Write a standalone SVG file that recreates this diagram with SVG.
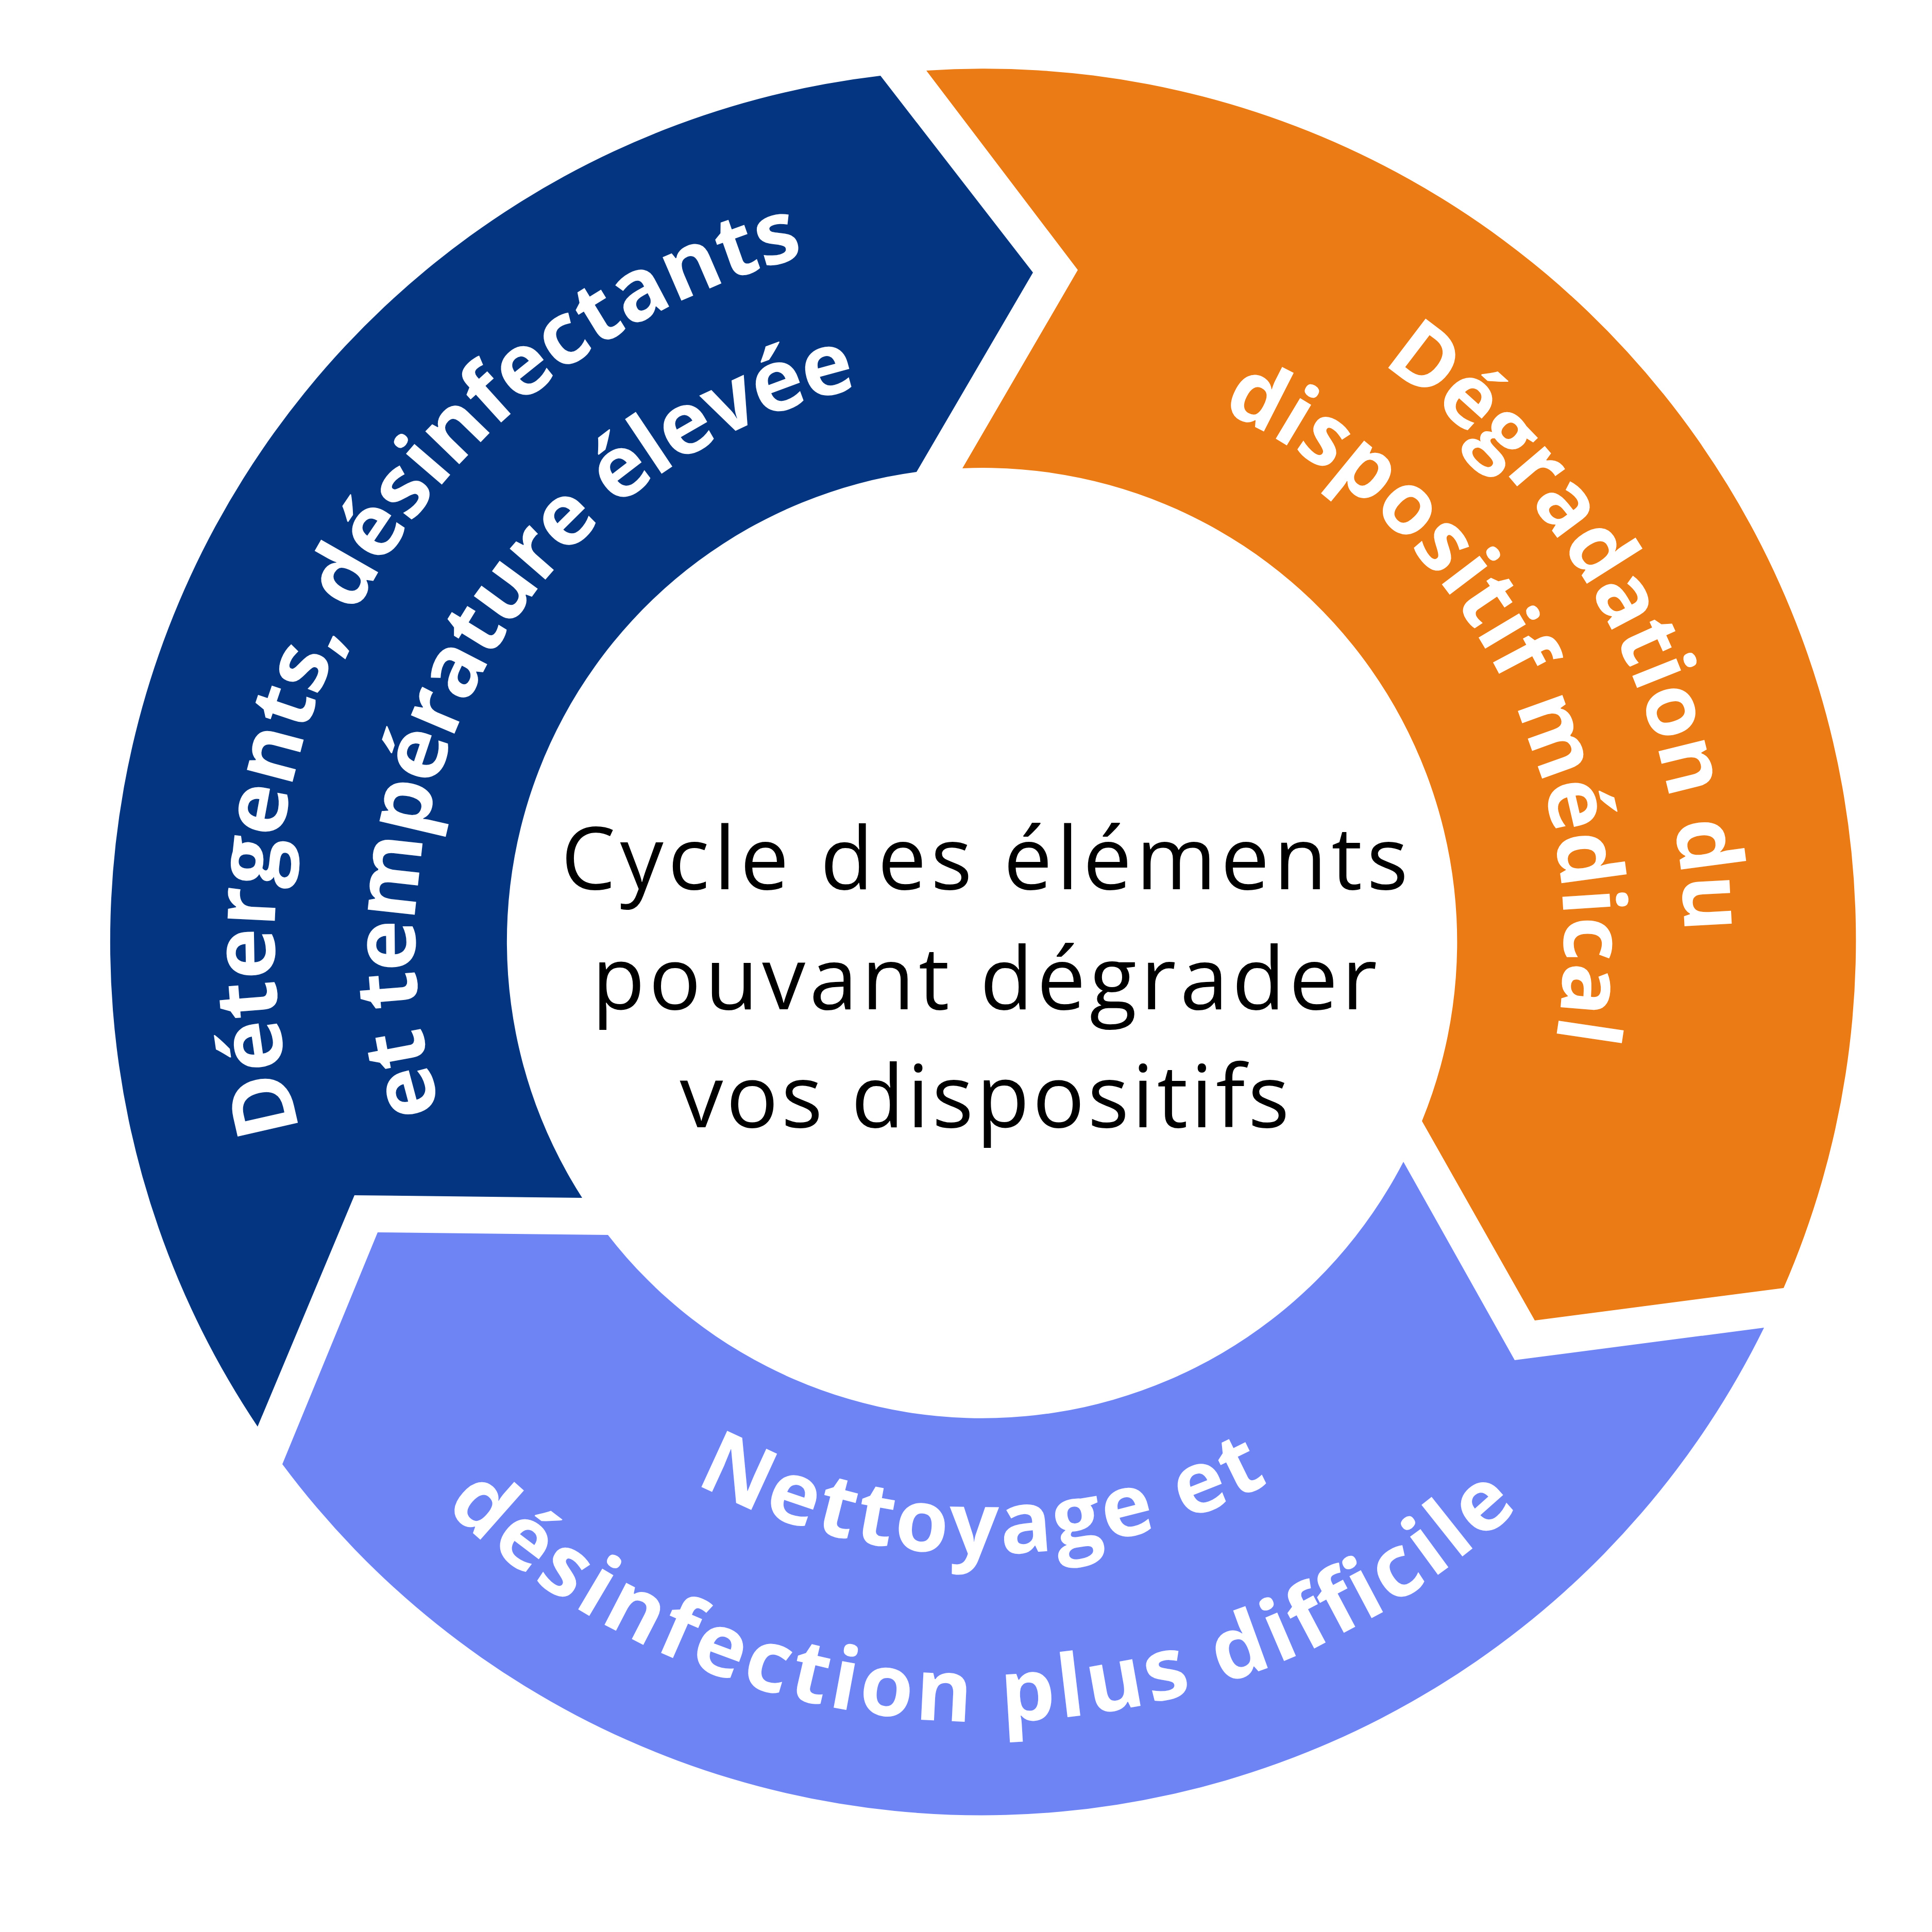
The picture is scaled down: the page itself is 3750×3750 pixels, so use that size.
<svg xmlns="http://www.w3.org/2000/svg" width="3750" height="3750" viewBox="0 0 3750 3750">
<style>
.lbl{font-family:"Open Sans","Liberation Sans",sans-serif;font-weight:700;font-size:168px;fill:#fff}
.ctr{font-family:"Open Sans","Liberation Sans",sans-serif;font-size:168px;fill:#000;text-anchor:middle}
</style>
<defs>
<path id="n1" d="M1023.4,2878.7 A1373,1373 0 0 1 2375.6,536.8"/>
<path id="n2" d="M1198.9,2669.6 A1100,1100 0 0 1 2282.2,793.3"/>
<path id="o1" d="M1484.8,530.6 A1363,1363 0 0 1 2745.2,2901"/>
<path id="o2" d="M1556.8,752.3 A1130,1130 0 0 1 2601.7,2717.4"/>
<path id="l1" d="M734.1,2033.6 A1190,1190 0 0 0 3077.9,2033.6"/>
<path id="l2" d="M414,2090 A1515,1515 0 0 0 3398,2090"/>
</defs>
<rect width="3750" height="3750" fill="#fff"/>
<g id="navy">
<path fill="#033580" d="M500,2769 A1692,1692 0 0 1 1709,147 L2005,529 L1779,916 A920,920 0 0 0 1130,2325 L688,2320 Z"/>
<text class="lbl"><textPath href="#n1" startOffset="50%" text-anchor="middle" textLength="2180" lengthAdjust="spacing">Détergents, désinfectants</textPath></text>
<text class="lbl"><textPath href="#n2" startOffset="50%" text-anchor="middle" textLength="1820" lengthAdjust="spacing">et température élevée</textPath></text>
</g>
<g id="orange">
<path fill="#EB7B14" d="M1798,137 A1692,1692 0 0 1 3462,2500 L2979,2563 L2760,2176 A920,920 0 0 0 1868,909 L2092,524 Z"/>
<text class="lbl"><textPath href="#o1" startOffset="50%" text-anchor="middle" textLength="1300" lengthAdjust="spacing">Dégradation du</textPath></text>
<text class="lbl"><textPath href="#o2" startOffset="50%" text-anchor="middle" textLength="1490" lengthAdjust="spacing">dispositif médical</textPath></text>
</g>
<g id="lavender">
<path fill="#6E84F5" d="M3424,2577 A1692,1692 0 0 1 548,2842 L733,2392 L1180,2397 A920,920 0 0 0 2724,2255 L2940,2640 Z"/>
<text class="lbl"><textPath href="#l1" startOffset="50%" text-anchor="middle" textLength="1160" lengthAdjust="spacing">Nettoyage et</textPath></text>
<text class="lbl"><textPath href="#l2" startOffset="50%" text-anchor="middle" textLength="2300" lengthAdjust="spacing">désinfection plus difficile</textPath></text>
</g>
<g id="center">
<text class="ctr" x="1911" y="1726" textLength="1644" lengthAdjust="spacing">Cycle des éléments</text>
<text class="ctr" x="1911" y="1959" textLength="1524" lengthAdjust="spacing">pouvant dégrader</text>
<text class="ctr" x="1911" y="2188" textLength="1183" lengthAdjust="spacing">vos dispositifs</text>
</g>
<g id="connectors"/>
</svg>
